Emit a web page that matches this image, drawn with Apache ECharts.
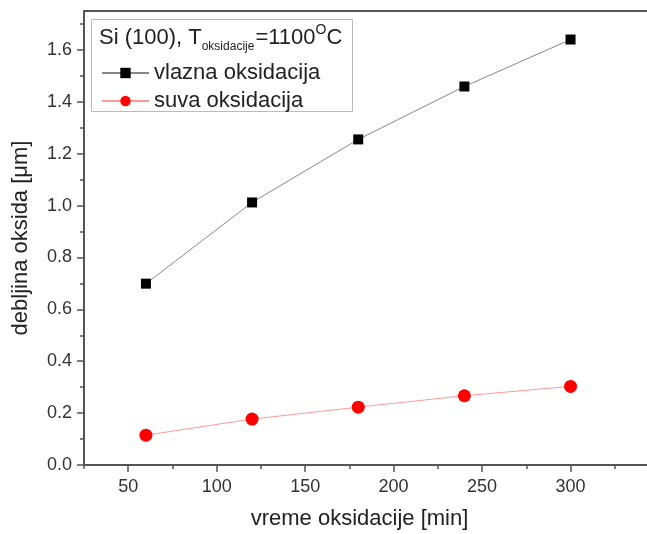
<!DOCTYPE html>
<html>
<head>
<meta charset="utf-8">
<script src="https://cdn.jsdelivr.net/npm/echarts@6/dist/echarts.min.js"></script>
<style>
html,body{margin:0;padding:0;background:#fff;overflow:hidden;}
#c{width:647px;height:534px;}
</style>
</head>
<body>
<div id="c"></div>
<script>
const times = [60, 120, 180, 240, 300];
const wetOxide = [0.699, 1.012, 1.255, 1.459, 1.640];
const dryOxide = [0.115, 0.177, 0.223, 0.267, 0.303];
const xMajorTicks = [50, 100, 150, 200, 250, 300, 350];
const xMinorTicks = [25, 75, 125, 175, 225, 275, 325];
const xLabels = [50, 100, 150, 200, 250, 300];
const yMajorTicks = [0, 0.2, 0.4, 0.6, 0.8, 1.0, 1.2, 1.4, 1.6];
const yMinorTicks = [0.1, 0.3, 0.5, 0.7, 0.9, 1.1, 1.3, 1.5, 1.7];
const seriesNames = ['vlazna oksidacija', 'suva oksidacija'];

const FONT = 'Liberation Sans, Arial, sans-serif';
const AX = '#555';

const chart = echarts.init(document.getElementById('c'), null, {renderer: 'canvas'});
const pairs = (xs, ys) => xs.map((x, i) => [x, ys[i]]);
const gridRect = {left: 84, top: 11, height: 454, width: 575, outerBoundsMode: 'none', containLabel: false, show: false};

chart.setOption({
  animation: false,
  backgroundColor: '#fff',
  grid: [Object.assign({}, gridRect), Object.assign({}, gridRect)],
  xAxis: [{
    gridIndex: 0, type: 'value', min: 25, max: 350, position: 'bottom',
    name: 'vreme oksidacije [min]', nameLocation: 'middle', nameGap: 43,
    nameTextStyle: {fontFamily: FONT, fontSize: 22, color: '#222', padding: [0, 24, 0, 0]},
    axisLine: {show: true, onZero: false, lineStyle: {color: AX, width: 2}},
    axisTick: {show: true, length: 7, inside: false, customValues: xMajorTicks, lineStyle: {color: AX, width: 1.5}},
    axisLabel: {customValues: xLabels, fontFamily: FONT, fontSize: 18, color: '#333', margin: 13},
    splitLine: {show: false}
  }, {
    gridIndex: 0, type: 'value', min: 25, max: 350, position: 'top',
    axisLine: {show: true, onZero: false, lineStyle: {color: AX, width: 2}},
    axisTick: {show: false},
    axisLabel: {show: false},
    splitLine: {show: false}
  }, {
    gridIndex: 1, type: 'value', min: 25, max: 350, position: 'bottom',
    axisLine: {show: false, onZero: false},
    axisTick: {show: true, length: 4, customValues: xMinorTicks, lineStyle: {color: AX, width: 1.5}},
    axisLabel: {show: false},
    splitLine: {show: false}
  }],
  yAxis: [{
    gridIndex: 0, type: 'value', min: 0, max: 1.75, position: 'left',
    name: 'debljina oksida [μm]', nameLocation: 'middle', nameGap: 52,
    nameTextStyle: {fontFamily: FONT, fontSize: 22, color: '#222'},
    axisLine: {show: true, onZero: false, lineStyle: {color: AX, width: 2}},
    axisTick: {show: true, length: 7, customValues: yMajorTicks, lineStyle: {color: AX, width: 1.5}},
    axisLabel: {customValues: yMajorTicks, formatter: v => v.toFixed(1), fontFamily: FONT, fontSize: 18, color: '#333', margin: 12},
    splitLine: {show: false}
  }, {
    gridIndex: 1, type: 'value', min: 0, max: 1.75, position: 'left',
    axisLine: {show: false, onZero: false},
    axisTick: {show: true, length: 4, customValues: yMinorTicks, lineStyle: {color: AX, width: 1.5}},
    axisLabel: {show: false},
    splitLine: {show: false}
  }],
  legend: {
    show: true, orient: 'vertical', left: 96, top: 57,
    itemWidth: 47, itemHeight: 13, itemGap: 6,
    textStyle: {fontFamily: FONT, fontSize: 22, color: '#222'},
    data: seriesNames, z: 10
  },
  graphic: [{
    type: 'rect', left: 91, top: 19, z: 5,
    shape: {width: 261, height: 92},
    style: {fill: '#fff', stroke: '#bbb', lineWidth: 1}
  }, {
    type: 'text', left: 99, top: 23, z: 11,
    style: {
      text: '{m|Si (100), T}{sub|oksidacije}{m|=1100}{sup|O}{m|C}',
      font: '22px ' + FONT, fill: '#222',
      rich: {
        m: {fontSize: 22, fontFamily: FONT, fill: '#222', lineHeight: 30, verticalAlign: 'middle'},
        sub: {fontSize: 12, fontFamily: FONT, fill: '#222', verticalAlign: 'bottom', lineHeight: 8, padding: [0, 1, 0, 0]},
        sup: {fontSize: 14, fontFamily: FONT, fill: '#222', verticalAlign: 'top', lineHeight: 14}
      }
    }
  }],
  series: [{
    name: seriesNames[0], type: 'line', xAxisIndex: 0, yAxisIndex: 0, data: pairs(times, wetOxide),
    symbol: 'rect', symbolSize: 10,
    itemStyle: {color: '#000'},
    lineStyle: {color: '#888', width: 1},
    z: 3
  }, {
    name: seriesNames[1], type: 'line', xAxisIndex: 0, yAxisIndex: 0, data: pairs(times, dryOxide),
    symbol: 'circle', symbolSize: 13,
    itemStyle: {color: '#f00'},
    lineStyle: {color: '#f99', width: 1},
    z: 3
  }]
});
</script>
</body>
</html>
